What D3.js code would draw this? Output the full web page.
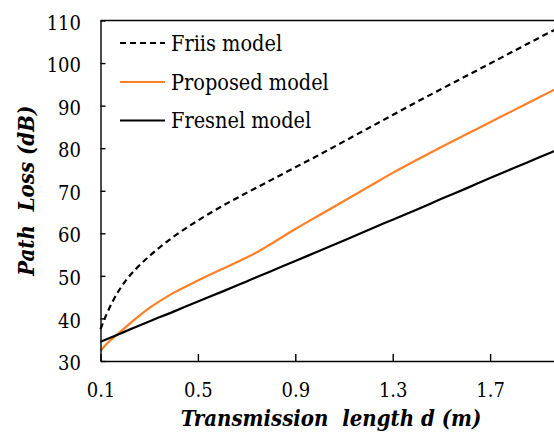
<!DOCTYPE html>
<html>
<head>
<meta charset="utf-8">
<script src="https://cdn.jsdelivr.net/npm/d3@7"></script>
<style>
  body { margin: 0; background: #fff; }
  .axis path, .axis line { stroke: #000; stroke-width: 1.4; }
</style>
</head>
<body>
<div id="chart"></div>
<script>
// transmission length d (m)
var distances = [0.1, 0.125, 0.15, 0.2, 0.25, 0.3, 0.4, 0.5, 0.6, 0.7, 0.75, 0.8, 0.9, 1.0, 1.1, 1.2, 1.3, 1.4, 1.5, 1.6, 1.7, 1.8, 1.9, 2.0];
// path loss (dB)
var friis    = [37.5, 41.0, 44.0, 48.6, 51.9, 54.6, 59.2, 63.0, 66.4, 69.5, 71.0, 72.5, 75.5, 78.5, 81.6, 84.7, 87.8, 90.9, 93.9, 96.9, 99.9, 102.9, 105.9, 108.8];
var proposed = [32.4, 34.0, 35.3, 37.8, 40.2, 42.4, 46.0, 48.9, 51.6, 54.3, 55.8, 57.5, 61.0, 64.3, 67.6, 70.9, 74.2, 77.3, 80.3, 83.2, 86.1, 89.0, 91.9, 94.8];
var fresnel  = [34.5, 35.1, 35.7, 36.9, 38.1, 39.3, 41.6, 44.0, 46.3, 48.7, 49.9, 51.1, 53.5, 55.9, 58.3, 60.8, 63.2, 65.6, 68.1, 70.5, 73.0, 75.4, 77.8, 80.2];

var xTicks = [0.1, 0.5, 0.9, 1.3, 1.7];
var yTicks = [30, 40, 50, 60, 70, 80, 90, 100, 110];

var seriesNames = ["Friis model", "Proposed model", "Fresnel model"];

var serifC = "'DejaVu Serif Condensed', 'DejaVu Serif', serif";

function init() {
  var w = 554;
  var h = 432;

  var left = 100.5;
  var top = 20.5;
  var bottom = 361;
  var tickStep = 97.4; // px per 0.4 m

  var svg = d3.select("#chart")
    .append("svg")
    .attr("width", w)
    .attr("height", h);

  var xScale = d3.scaleLinear()
    .domain([0.1, 2.0])
    .range([left, left + tickStep * (1.9 / 0.4)]);

  var yScale = d3.scaleLinear()
    .domain([30, 110])
    .range([bottom, top]);

  var series = [
    { name: seriesNames[0], values: friis, color: "#000", dash: "6,4" },
    { name: seriesNames[1], values: proposed, color: "#FF7F27", dash: null },
    { name: seriesNames[2], values: fresnel, color: "#000", dash: null }
  ];

  var line = d3.line()
    .x(function (d, i) { return xScale(distances[i]); })
    .y(function (d) { return yScale(d); })
    .curve(d3.curveMonotoneX);

  svg.selectAll("path.series")
    .data(series)
    .enter()
    .append("path")
    .attr("class", "series")
    .attr("fill", "none")
    .attr("stroke", function (d) { return d.color; })
    .attr("stroke-width", 2.2)
    .attr("stroke-dasharray", function (d) { return d.dash; })
    .attr("d", function (d) { return line(d.values); });

  // axes, ticks point inwards
  var xAxis = d3.axisBottom(xScale)
    .tickValues(xTicks)
    .tickFormat(d3.format(".1f"))
    .tickSizeInner(-7)
    .tickSizeOuter(0)
    .tickPadding(22);

  var yAxis = d3.axisLeft(yScale)
    .tickValues(yTicks)
    .tickSizeInner(-5)
    .tickSizeOuter(0)
    .tickPadding(19.5);

  var gx = svg.append("g")
    .attr("class", "axis")
    .attr("transform", "translate(0," + bottom + ")")
    .call(xAxis);

  var gy = svg.append("g")
    .attr("class", "axis")
    .attr("transform", "translate(" + left + ",0)")
    .call(yAxis);

  gx.attr("font-family", serifC).attr("font-size", 20).style("font-stretch", "condensed");
  gy.attr("font-family", serifC).attr("font-size", 20).style("font-stretch", "condensed");
  gx.selectAll(".tick text").attr("dy", "0.71em");
  gy.selectAll(".tick text").attr("dy", "0.43em");

  // top border
  svg.append("line")
    .attr("x1", left)
    .attr("x2", w)
    .attr("y1", yScale(110))
    .attr("y2", yScale(110))
    .attr("stroke", "#000")
    .attr("stroke-width", 1.4);

  // legend
  var legend = svg.append("g")
    .attr("font-family", serifC)
    .attr("font-size", 21.5)
    .style("font-stretch", "condensed");
  var legendY = [43, 82, 120.5];
  series.forEach(function (s, i) {
    legend.append("line")
      .attr("x1", 120)
      .attr("x2", 165)
      .attr("y1", legendY[i])
      .attr("y2", legendY[i])
      .attr("stroke", s.color)
      .attr("stroke-width", 2.2)
      .attr("stroke-dasharray", s.dash);
    legend.append("text")
      .attr("x", 171)
      .attr("y", legendY[i] + 7.7)
      .text(s.name);
  });

  // axis titles
  svg.append("text")
    .attr("font-family", serifC)
    .style("font-stretch", "condensed")
    .attr("font-size", 22)
    .attr("font-weight", "bold")
    .attr("font-style", "italic")
    .style("white-space", "pre")
    .attr("text-anchor", "middle")
    .attr("transform", "translate(34," + ((top + bottom) / 2) + ") rotate(-90)")
    .text("Path  Loss (dB)");

  svg.append("text")
    .attr("font-family", serifC)
    .style("font-stretch", "condensed")
    .attr("font-size", 22)
    .attr("font-weight", "bold")
    .attr("font-style", "italic")
    .style("white-space", "pre")
    .attr("text-anchor", "middle")
    .attr("x", 331)
    .attr("y", 426)
    .text("Transmission  length d (m)");
}

window.onload = init;
</script>
</body>
</html>
